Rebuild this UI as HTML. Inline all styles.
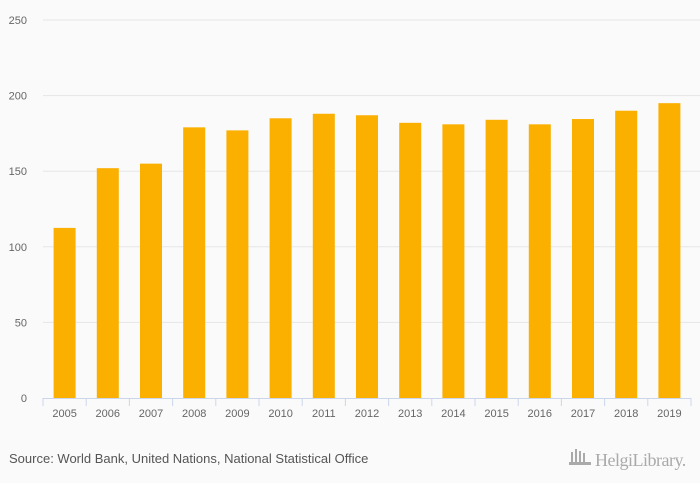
<!DOCTYPE html>
<html><head><meta charset="utf-8">
<style>
html,body{margin:0;padding:0;background:#fafafa;}
svg{display:block;font-family:"Liberation Sans",sans-serif;}
</style></head>
<body>
<svg id="chart" width="700" height="483" xmlns="http://www.w3.org/2000/svg">
<rect width="700" height="483" fill="#fafafa"/>
<g id="grid"></g><g id="bars"></g><g id="xaxis"></g>
<text x="9" y="463" font-size="13" fill="#555">Source: World Bank, United Nations, National Statistical Office</text>
<g>
<g fill="#aaa"><rect x="571" y="452" width="2" height="12"/><rect x="575" y="449" width="2" height="15"/><rect x="579" y="451" width="2" height="13"/><rect x="583" y="453" width="2" height="11"/><rect x="569" y="462" width="22" height="3"/></g>
<text x="595" y="466" font-size="18" fill="#aaa" font-family="Liberation Serif,serif" letter-spacing="-0.5">HelgiLibrary.</text>
</g>
</svg>
<script>
const categories=["2005","2006","2007","2008","2009","2010","2011","2012","2013","2014","2015","2016","2017","2018","2019"];
const values=[112.5,152,155,179,177,185,188,187,182,181,184,181,184.5,190,195];
const yTicks=[0,50,100,150,200,250];
const NS="http://www.w3.org/2000/svg";
const x0=43,x1=691,yBase=398,yTop=20,yMax=250;
const step=(x1-x0)/categories.length;
const y=v=>yBase-(v/yMax)*(yBase-yTop);
const xc=i=>x0+step*(i+0.5);
function mk(t,a,p){const e=document.createElementNS(NS,t);for(const k in a)e.setAttribute(k,a[k]);p.appendChild(e);return e;}
const grid=document.getElementById('grid'),bars=document.getElementById('bars'),xa=document.getElementById('xaxis');
yTicks.forEach(t=>{
  if(t>0){const l=mk('line',{x1:x0,x2:700,y1:y(t),y2:y(t),stroke:'#e6e6e6','stroke-width':1},grid);
  
  }
  const tx=mk('text',{x:27,y:y(t)+4,'font-size':11,fill:'#666','text-anchor':'end'},grid);
  tx.textContent=t;
  
  
});
values.forEach((v,i)=>{
  const r=mk('rect',{x:xc(i)-11,y:y(v),width:22,height:yBase-y(v),fill:'#fbb000'},bars);
  
  
});
const ax=mk('line',{x1:x0,x2:x1,y1:yBase+0.5,y2:yBase+0.5,stroke:'#ccd6eb','stroke-width':1},xa);


for(let i=0;i<=categories.length;i++){
  const t=mk('line',{x1:x0+step*i,x2:x0+step*i,y1:yBase,y2:yBase+8,stroke:'#ccd6eb'},xa);
  
  
}
categories.forEach((c,i)=>{
  const t=mk('text',{x:xc(i),y:417,'font-size':11,fill:'#666','text-anchor':'middle'},xa);
  t.textContent=c;
  
  
});
</script>
</body></html>
